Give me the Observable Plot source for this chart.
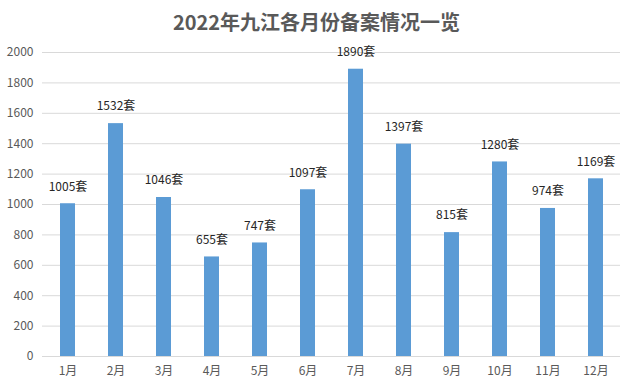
<!DOCTYPE html>
<html><head><meta charset="utf-8">
<script src="https://cdn.jsdelivr.net/npm/d3@7"></script>
<script src="https://cdn.jsdelivr.net/npm/@observablehq/plot@0.6"></script>
<style>
body{margin:0;background:#fff;font-family:"Noto Sans CJK SC","Noto Sans",sans-serif;}
#title{height:40px;line-height:44px;text-align:center;font-size:20px;font-weight:bold;color:#595959;}
</style></head><body>
<div id="title">2022年九江各月份备案情况一览</div>
<div id="chart"></div>
<script>
const months = ["1月","2月","3月","4月","5月","6月","7月","8月","9月","10月","11月","12月"];
const values = [1005,1532,1046,655,747,1097,1890,1397,815,1280,974,1169];
const yTicks = [0,200,400,600,800,1000,1200,1400,1600,1800,2000];
const data = months.map((m,i)=>({month:m,value:values[i]}));
const chart = Plot.plot({
  width:633, height:347,
  marginTop:12, marginBottom:31, marginLeft:42, marginRight:13,
  style:{fontFamily:'"Noto Sans CJK SC","Noto Sans",sans-serif', fontSize:"12px", color:"#595959", background:"#fff"},
  x:{domain:months, paddingInner:0.69, paddingOuter:0.345, label:null},
  y:{domain:[0,2000], ticks:yTicks, label:null},
  marks:[
    Plot.gridY(yTicks,{stroke:"#d9d9d9", strokeOpacity:1}),
    Plot.axisY({ticks:yTicks, tickFormat:d3.format("d"), tickSize:0, tickPadding:9, label:null, fill:"#595959"}),
    Plot.axisX({tickSize:0, tickPadding:10, label:null, fill:"#595959"}),
    Plot.barY(data,{x:"month", y:"value", fill:"#5b9bd5"}),
    Plot.text(data,{x:"month", y:"value", text:d=>d.value+"套", dy:-17, fill:"#262626", fontSize:12})
  ]
});
document.getElementById("chart").appendChild(chart);
</script></body></html>
